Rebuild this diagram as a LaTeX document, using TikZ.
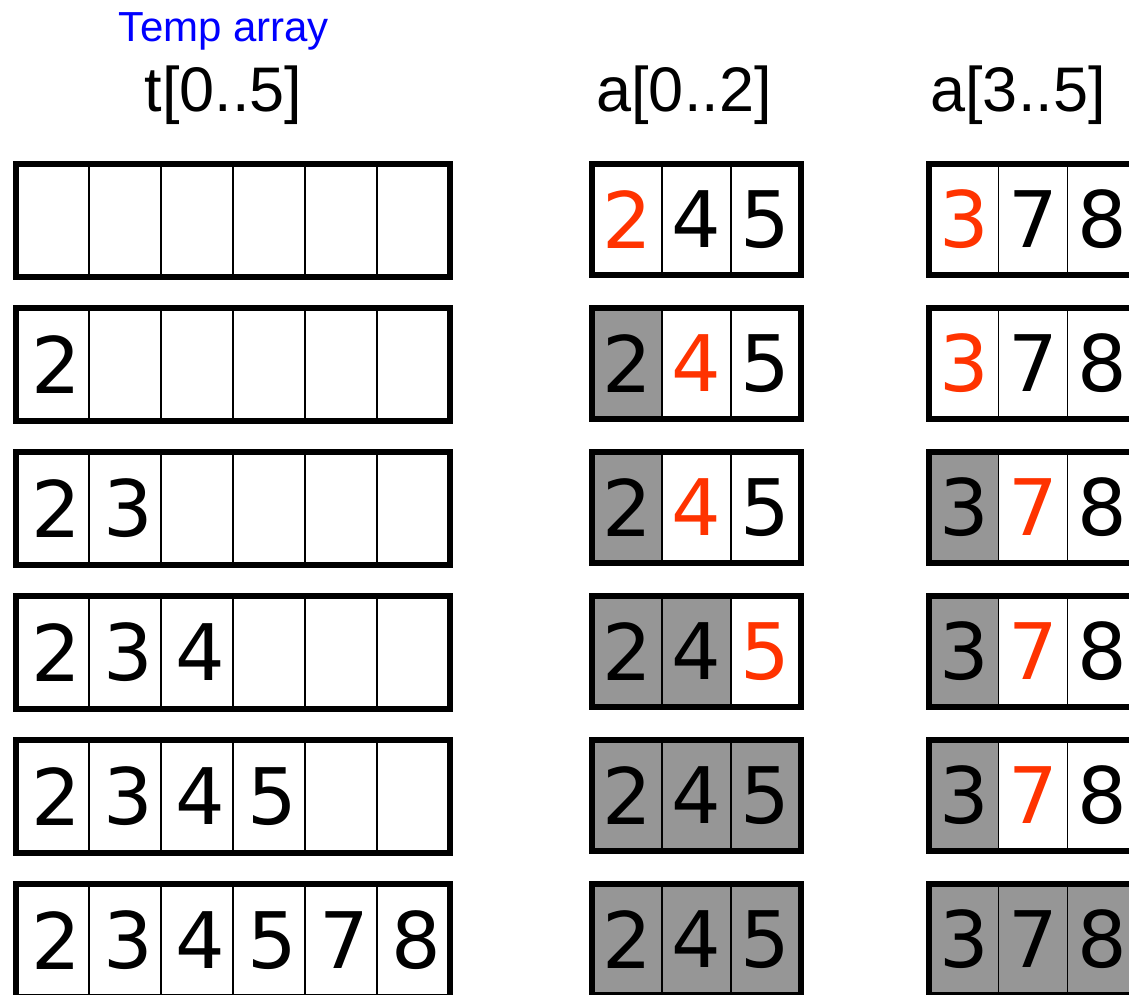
\documentclass[tikz,border=0pt]{standalone}
\usepackage{fontspec}
\newfontfamily\digitfont{DejaVu Sans}
\newfontfamily\labelfont{Liberation Sans}
\definecolor{redc}{RGB}{255,51,0}
\definecolor{greyc}{RGB}{150,150,150}
\definecolor{bluec}{RGB}{0,0,255}
\begin{document}
\begin{tikzpicture}[x=1pt,y=-1pt,
  cellbase/.style={draw=black, line width=1.8pt, inner sep=0pt,
    font=\digitfont\fontsize{78}{78}\selectfont, minimum height=111pt},
  tcell/.style={cellbase, minimum width=72pt},
  acell/.style={cellbase, minimum width=69pt, minimum height=109pt},
  st-g/.style={fill=greyc}, st-r/.style={text=redc}, st-n/.style={},
  frame/.style={draw=black, line width=6pt},
  title/.style={font=\labelfont\fontsize{63}{63}\selectfont, anchor=base, inner sep=0pt}]
\clip (0,0) rectangle (1129,995);
% temp array t[0..5]
\foreach \r/\k in {1/0,2/1,3/2,4/3,5/4,6/6} {
  \foreach \v [count=\c] in {2,3,4,5,7,8} {
    \node[tcell] (t\r-\c) at ({17+72*(\c-0.5)},{220.5+144*(\r-1)}) {\ifnum\c>\k\relax\else\hspace*{7pt}\v\fi};
  }
  \draw[frame] (t\r-1.north west) rectangle (t\r-6.south east);
}
% a[0..2] and a[3..5]
\foreach \r/\sa/\sb in {1/{r,n,n}/{r,n,n},2/{g,r,n}/{r,n,n},3/{g,r,n}/{g,r,n},4/{g,g,r}/{g,r,n},5/{g,g,g}/{g,r,n},6/{g,g,g}/{g,g,g}} {
  \foreach \s [count=\c] in \sa {
    \node[acell, st-\s] (a\r-\c) at ({593+69*(\c-0.5)},{219.5+144*(\r-1)}) {\ifcase\c\or 2\or 4\or 5\fi};
  }
  \draw[frame] (a\r-1.north west) rectangle (a\r-3.south east);
  \foreach \s [count=\c] in \sb {
    \node[acell, st-\s] (b\r-\c) at ({929.5+69*(\c-0.5)},{219.5+144*(\r-1)}) {\ifcase\c\or 3\or 7\or 8\fi};
  }
  \draw[frame] (b\r-1.north west) rectangle (b\r-3.south east);
}
% labels
\node[title, font=\labelfont\fontsize{42}{42}\selectfont, text=bluec] (temp) at (224,41.7) {Temp array};
\node[title] (tl) at (223.5,112) {t[0..5]};
\node[title] (al) at (684,112) {a[0..2]};
\node[title] (bl) at (1018,112) {a[3..5]};
\end{tikzpicture}
\end{document}
